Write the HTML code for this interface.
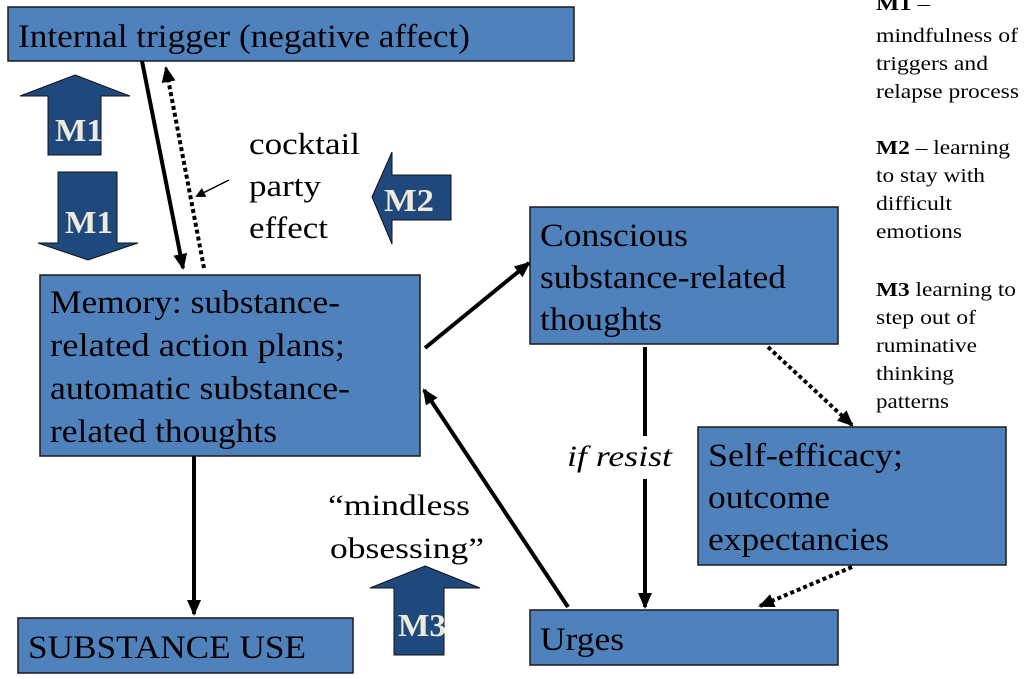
<!DOCTYPE html>
<html><head><meta charset="utf-8"><style>
html,body{margin:0;padding:0;background:#fff;}
svg{display:block;}
svg text{font-family:"Liberation Serif","Times New Roman","DejaVu Serif",serif;}
</style></head><body>
<svg width="1024" height="679" viewBox="0 0 1024 679" xmlns="http://www.w3.org/2000/svg">
<defs>
<marker id="ah" markerWidth="10" markerHeight="10" refX="8" refY="5" orient="auto" markerUnits="userSpaceOnUse" viewBox="0 0 10 10"><path d="M0,0 L10,5 L0,10 z" fill="#000"/></marker>
<marker id="ah2" markerWidth="16" markerHeight="16" refX="14" refY="8" orient="auto" markerUnits="userSpaceOnUse" viewBox="0 0 16 16"><path d="M0,1 L16,8 L0,15 z" fill="#000"/></marker>
</defs>
<g fill="#4f81bd" stroke="#1a1a1a" stroke-width="1.5">
<rect x="8" y="7" width="566" height="54"/>
<rect x="40" y="275" width="380" height="181"/>
<rect x="530" y="207" width="308" height="137"/>
<rect x="698" y="427" width="308" height="138"/>
<rect x="530" y="610" width="308" height="55"/>
<rect x="18" y="618" width="335" height="55"/>
</g>
<g fill="#1f497d" stroke="#111" stroke-width="1">
<path d="M75,75 L130,96 L101,96 L101,155 L48,155 L48,96 L20,96 Z"/>
<path d="M58,172 L117,172 L117,243 L138,243 L88,260 L38,243 L58,243 Z"/>
<path d="M372,197 L392,152 L392,175 L451,175 L451,220 L392,220 L392,244 Z"/>
<path d="M425,566 L480,588 L444,588 L444,655 L394,655 L394,588 L370,588 Z"/>
</g>
<g font-weight="bold" fill="#eeeadc" font-size="32" lengthAdjust="spacingAndGlyphs">
<text x="55" y="141" textLength="48" lengthAdjust="spacingAndGlyphs">M1</text>
<text x="65" y="233" textLength="48" lengthAdjust="spacingAndGlyphs">M1</text>
<text x="384" y="211" textLength="50" lengthAdjust="spacingAndGlyphs">M2</text>
<text x="398" y="636" textLength="48" lengthAdjust="spacingAndGlyphs">M3</text>
</g>
<g stroke="#000" stroke-width="4" fill="none">
<line x1="142" y1="61" x2="183" y2="268" marker-end="url(#ah2)"/>
<line x1="204" y1="268" x2="166" y2="68" stroke-dasharray="4,3" marker-end="url(#ah2)"/>
<line x1="425" y1="348" x2="529" y2="263" marker-end="url(#ah2)"/>
<line x1="194" y1="456" x2="194" y2="614" marker-end="url(#ah2)"/>
<line x1="568" y1="607" x2="424" y2="390" marker-end="url(#ah2)"/>
<line x1="645" y1="347" x2="645" y2="436"/>
<line x1="645" y1="479" x2="645" y2="607" marker-end="url(#ah2)"/>
<line x1="768" y1="347" x2="852" y2="425" stroke-dasharray="4,3" marker-end="url(#ah2)"/>
<line x1="852" y1="567" x2="760" y2="606" stroke-dasharray="4,3" marker-end="url(#ah2)"/>
<line x1="229" y1="180" x2="197" y2="196" stroke-width="1.5" marker-end="url(#ah)"/>
</g>
<g font-size="33" fill="#000">
<text x="18" y="47" textLength="452" lengthAdjust="spacingAndGlyphs">Internal trigger (negative affect)</text>
<text x="50" y="313" textLength="290" lengthAdjust="spacingAndGlyphs">Memory: substance-</text>
<text x="50" y="356" textLength="295" lengthAdjust="spacingAndGlyphs">related action plans;</text>
<text x="50" y="399" textLength="300" lengthAdjust="spacingAndGlyphs">automatic substance-</text>
<text x="50" y="442" textLength="227" lengthAdjust="spacingAndGlyphs">related thoughts</text>
<text x="540" y="246" textLength="148" lengthAdjust="spacingAndGlyphs">Conscious</text>
<text x="540" y="288" textLength="246" lengthAdjust="spacingAndGlyphs">substance-related</text>
<text x="540" y="330" textLength="122" lengthAdjust="spacingAndGlyphs">thoughts</text>
<text x="708" y="466" textLength="195" lengthAdjust="spacingAndGlyphs">Self-efficacy;</text>
<text x="708" y="508" textLength="122" lengthAdjust="spacingAndGlyphs">outcome</text>
<text x="708" y="550" textLength="181" lengthAdjust="spacingAndGlyphs">expectancies</text>
<text x="540" y="650" textLength="84" lengthAdjust="spacingAndGlyphs">Urges</text>
<text x="28" y="658" textLength="278" lengthAdjust="spacingAndGlyphs">SUBSTANCE USE</text>
<text x="249" y="154" font-size="31" textLength="111" lengthAdjust="spacingAndGlyphs">cocktail</text>
<text x="249" y="196" font-size="31" textLength="72" lengthAdjust="spacingAndGlyphs">party</text>
<text x="249" y="238" font-size="31" textLength="79" lengthAdjust="spacingAndGlyphs">effect</text>
<text x="567" y="466" font-style="italic" font-size="30" textLength="105" lengthAdjust="spacingAndGlyphs">if resist</text>
<text x="328" y="515" font-size="30" textLength="142" lengthAdjust="spacingAndGlyphs">“mindless</text>
<text x="330" y="558" font-size="30" textLength="154" lengthAdjust="spacingAndGlyphs">obsessing”</text>
</g>
<g font-size="20" fill="#000">
<text x="876" y="10" textLength="54" lengthAdjust="spacingAndGlyphs"><tspan font-weight="bold">M1</tspan> –</text>
<text x="876" y="42" textLength="142" lengthAdjust="spacingAndGlyphs">mindfulness of</text>
<text x="876" y="70" textLength="112" lengthAdjust="spacingAndGlyphs">triggers and</text>
<text x="876" y="98" textLength="143" lengthAdjust="spacingAndGlyphs">relapse process</text>
<text x="876" y="154" textLength="134" lengthAdjust="spacingAndGlyphs"><tspan font-weight="bold">M2</tspan> – learning</text>
<text x="876" y="182" textLength="109" lengthAdjust="spacingAndGlyphs">to stay with</text>
<text x="876" y="210" textLength="76" lengthAdjust="spacingAndGlyphs">difficult</text>
<text x="876" y="238" textLength="86" lengthAdjust="spacingAndGlyphs">emotions</text>
<text x="876" y="296" textLength="140" lengthAdjust="spacingAndGlyphs"><tspan font-weight="bold">M3</tspan> learning to</text>
<text x="876" y="324" textLength="100" lengthAdjust="spacingAndGlyphs">step out of</text>
<text x="876" y="352" textLength="101" lengthAdjust="spacingAndGlyphs">ruminative</text>
<text x="876" y="380" textLength="78" lengthAdjust="spacingAndGlyphs">thinking</text>
<text x="876" y="408" textLength="73" lengthAdjust="spacingAndGlyphs">patterns</text>
</g>
</svg>
</body></html>
